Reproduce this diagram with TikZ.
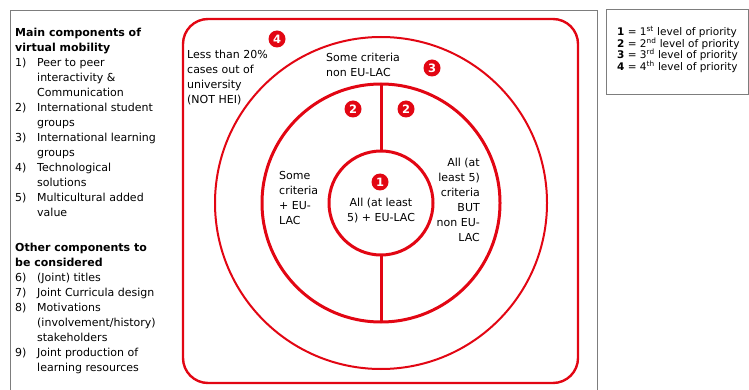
\documentclass[tikz,border=0pt]{standalone}
\usepackage{fontspec}
\setmainfont{DejaVu Sans}
\usepackage{xcolor}
\usetikzlibrary{positioning}
\definecolor{vmred}{RGB}{226,6,19}
\definecolor{frameg}{RGB}{125,125,125}
\newcommand{\itm}[1]{\makebox[22pt][l]{#1}}
\newcommand{\ind}{\hspace*{22pt}}
\newcommand{\tightlines}{\lineskiplimit=-8pt\relax}

\begin{document}
\begin{tikzpicture}[x=1pt,y=-1pt,
  txt/.style={inner sep=0pt,font=\fontsize{11}{15}\selectfont,align=left,
              execute at begin node=\strut},
  lgd/.style={inner sep=0pt,font=\fontsize{10.5}{11.5}\selectfont\tightlines,
              align=left,execute at begin node=\strut},
  ring/.style={circle,draw=vmred,inner sep=0pt,outer sep=0pt,minimum size=#1},
  num/.style={circle,fill=vmred,text=white,inner sep=0pt,minimum size=17pt,
              font=\fontsize{11.5}{11.5}\selectfont\bfseries},
  spoke/.style={draw=vmred,line width=3pt}
]
  \useasboundingbox (0,0) rectangle (749,390);
  \draw[frameg,line width=1pt] (10.5,390) -- (10.5,11) -- (597,11) -- (597,390);
  \draw[frameg,line width=1pt] (606,10) rectangle (748.5,95);

  \node[txt,anchor=north west] (maincomp) at (15,27.5) {%
    \textbf{Main components of}\\
    \textbf{virtual mobility}\\
    \itm{1)}Peer to peer\\
    \ind interactivity \&\\
    \ind Communication\\
    \itm{2)}International student\\
    \ind groups\\
    \itm{3)}International learning\\
    \ind groups\\
    \itm{4)}Technological\\
    \ind solutions\\
    \itm{5)}Multicultural added\\
    \ind value};
  \node[txt,anchor=north west] (othercomp) at (15,242.5) {%
    \textbf{Other components to}\\
    \textbf{be considered}\\
    \itm{6)}(Joint) titles\\
    \itm{7)}Joint Curricula design\\
    \itm{8)}Motivations\\
    \ind (involvement/history)\\
    \ind stakeholders\\
    \itm{9)}Joint production of\\
    \ind learning resources};

  \draw[vmred,line width=2.4pt,rounded corners=25pt] (183,19) rectangle (578,383);
  \node[ring=332pt,line width=2pt] (outer) at (381,203) {};
  \node[ring=238pt,line width=3pt] (middle) at (381,203) {};
  \node[ring=104pt,line width=3pt] (inner) at (381,203) {};
  \draw[spoke] (middle.north) -- (inner.north);
  \draw[spoke] (inner.south) -- (middle.south);

  \node[num] (lvfour)  at (277,39)  {4};
  \node[num] (lvthree) at (432,68)  {3};
  \node[num] (lvtwoa)  at (353,109) {2};
  \node[num] (lvtwob)  at (406,109) {2};
  \node[num] (lvone)   at (380,182) {1};

  \node[txt,anchor=north west] (notHEI) at (187,49.5)
    {Less than 20\%\\cases out of\\university\\(NOT HEI)};
  \node[txt,anchor=north west] (nonEU) at (326,52.5)
    {Some criteria\\non EU-LAC};
  \node[txt,anchor=north west] (someEU) at (279,171)
    {Some\\criteria\\+ EU-\\LAC};
  \node[txt,anchor=north,align=center] (allEU) at (381,198)
    {All (at least\\5) + EU-LAC};
  \node[txt,anchor=north east,align=right] (allnon) at (480,158)
    {All (at\\least 5)\\criteria\\BUT\\non EU-\\LAC};

  \node[lgd,anchor=north west] (legend) at (617,26.5) {%
    \textbf{1} = 1\textsuperscript{st} level of priority\\
    \textbf{2} = 2\textsuperscript{nd} level of priority\\
    \textbf{3} = 3\textsuperscript{rd} level of priority\\
    \textbf{4} = 4\textsuperscript{th} level of priority};
\end{tikzpicture}
\end{document}
